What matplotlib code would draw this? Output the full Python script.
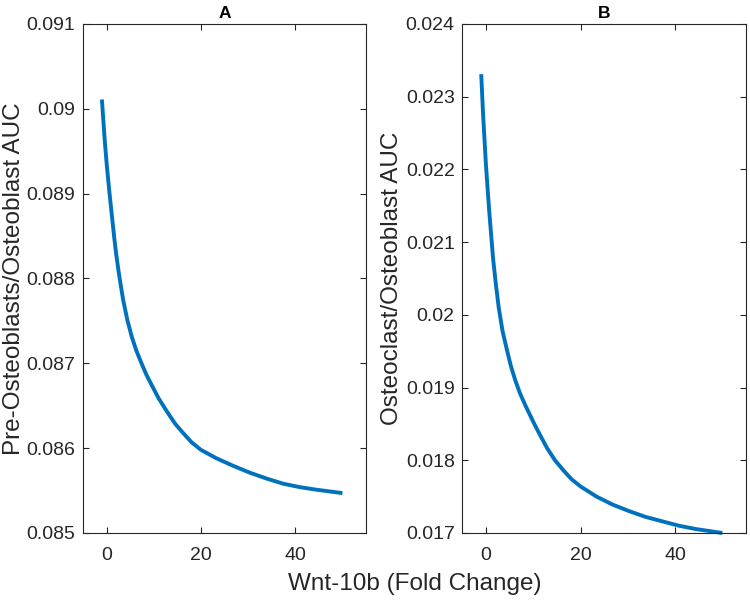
import matplotlib
matplotlib.use("Agg")
import matplotlib.pyplot as plt

# Panel A: Pre-Osteoblasts/Osteoblast AUC vs Wnt-10b fold change
xa = [-1.0, -0.4, 0.0, 0.55, 1.1, 1.6, 2.0, 2.5, 3.0, 3.5, 4.4, 5.3, 6.3, 7.4, 8.4, 9.5,
      11.0, 12.7, 14.5, 16.2, 18.0, 20.0, 23.3, 26.9, 30.4, 34.0, 37.5, 41.0, 44.5, 50.0]
ya = [0.09011, 0.08963, 0.08936, 0.08904, 0.08875, 0.08849, 0.08830, 0.08810, 0.08792,
      0.08775, 0.08751, 0.08732, 0.08715, 0.08700, 0.08687, 0.08675, 0.08659, 0.08644,
      0.08629, 0.08618, 0.08607, 0.08598, 0.08588, 0.08579, 0.08571, 0.08564, 0.08558,
      0.08554, 0.08551, 0.08547]

# Panel B: Osteoclast/Osteoblast AUC vs Wnt-10b fold change
xb = [-1.0, -0.6, 0.0, 0.7, 1.5, 2.1, 2.7, 3.5, 4.5, 5.3, 6.2, 7.2, 8.3, 10.0, 11.1, 12.9,
      14.6, 16.4, 18.1, 20.0, 23.4, 26.8, 30.3, 33.8, 37.3, 40.8, 44.3, 50.0]
yb = [0.02331, 0.02275, 0.02206, 0.02142, 0.02078, 0.02042, 0.02010, 0.01978, 0.01950,
      0.01929, 0.01910, 0.01892, 0.01876, 0.01853, 0.01839, 0.01817, 0.01800, 0.01786,
      0.01774, 0.01764, 0.01750, 0.01739, 0.01730, 0.01722, 0.01716, 0.01710, 0.017055,
      0.01700]

xticks = [0, 20, 40]
yticks_a = [0.085, 0.086, 0.087, 0.088, 0.089, 0.09, 0.091]
yticklabels_a = ["0.085", "0.086", "0.087", "0.088", "0.089", "0.09", "0.091"]
yticks_b = [0.017, 0.018, 0.019, 0.02, 0.021, 0.022, 0.023, 0.024]
yticklabels_b = ["0.017", "0.018", "0.019", "0.02", "0.021", "0.022", "0.023", "0.024"]

plt.rcParams['font.family'] = ['Liberation Sans', 'DejaVu Sans']
axcol = '#262626'
linecol = '#0072BD'

fig = plt.figure(figsize=(7.5, 6.06), dpi=100)
axA = fig.add_axes([0.1107, 0.1205, 0.3773, 0.8399])
axB = fig.add_axes([0.6164, 0.1205, 0.3783, 0.8399])

for ax, x, y, yt, ytl, ylim, ylabel, title, lx in [
    (axA, xa, ya, yticks_a, yticklabels_a, (0.085, 0.091), 'Pre-Osteoblasts/Osteoblast AUC', 'A', -0.244),
    (axB, xb, yb, yticks_b, yticklabels_b, (0.017, 0.024), 'Osteoclast/Osteoblast AUC', 'B', -0.247),
]:
    ax.plot(x, y, color=linecol, lw=2.8, clip_on=False, solid_capstyle='butt',
            solid_joinstyle='round')
    ax.set_xlim(-5, 55)
    ax.set_ylim(*ylim)
    ax.set_xticks(xticks)
    ax.set_yticks(yt)
    ax.set_yticklabels(ytl)
    ax.tick_params(direction='in', top=True, right=True, length=4, width=0.8,
                   colors=axcol, labelsize=14, labelcolor=axcol, pad=5.5)
    ax.tick_params(axis='x', pad=10)
    for s in ax.spines.values():
        s.set_color(axcol)
        s.set_linewidth(0.8)
    ax.set_ylabel(ylabel, fontsize=17.5, color=axcol)
    ax.yaxis.label.set_va('center')
    ax.yaxis.set_label_coords(lx, 0.5)
    ax.set_title(title, fontsize=12.5, fontweight='bold', color='black', pad=4)

fig.text(0.5527, 1 - 584 / 606, 'Wnt-10b (Fold Change)', ha='center', va='center',
         fontsize=17.5, color=axcol)

fig.savefig('out.png', dpi=100)
